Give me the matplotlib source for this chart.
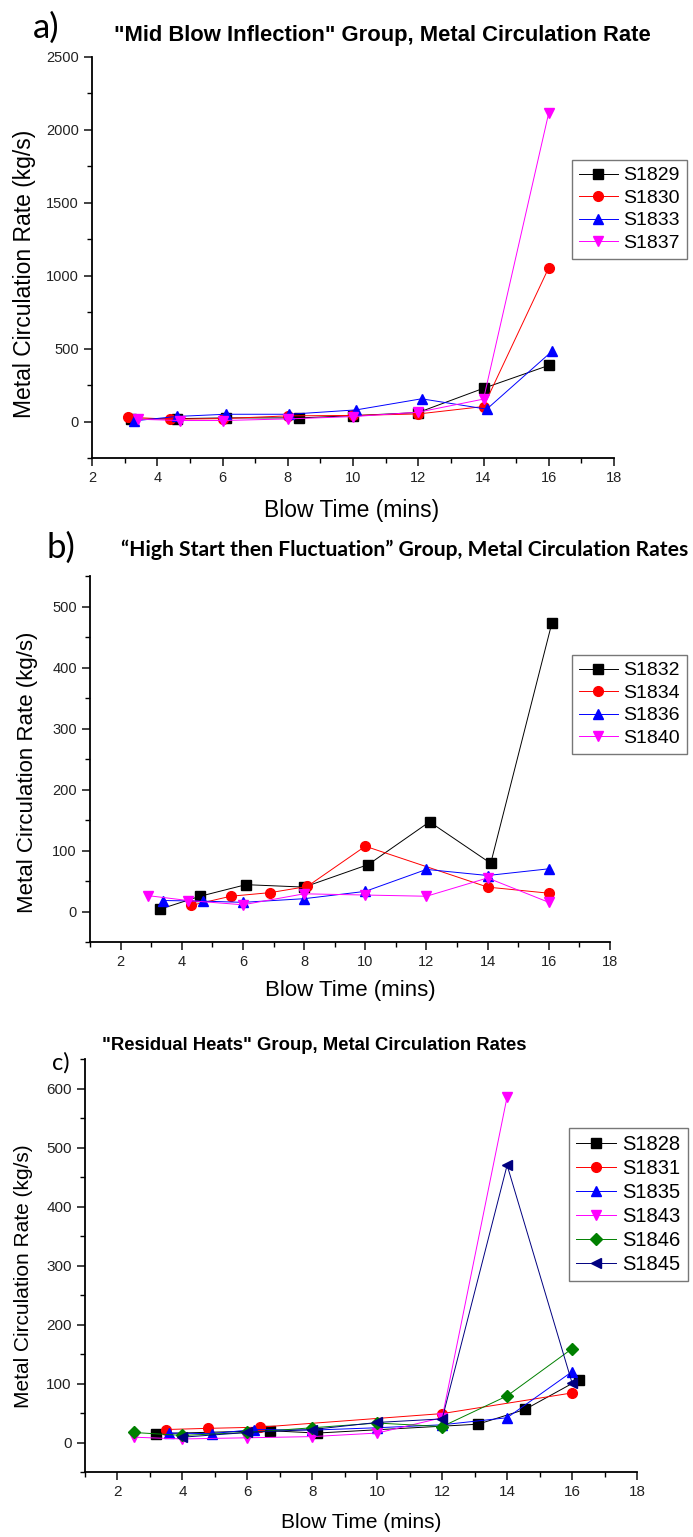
import matplotlib
matplotlib.use("Agg")
import matplotlib.pyplot as plt
from matplotlib.ticker import MultipleLocator

# ---- panel a data ----
a_names = ["S1829", "S1830", "S1833", "S1837"]
a_s1829_x = [3.2, 4.6, 6.1, 8.35, 10, 12, 14, 16]
a_s1829_y = [15, 20, 25, 25, 40, 62, 228, 385]
a_s1830_x = [3.1, 4.4, 6.0, 8.0, 10, 12, 14, 16]
a_s1830_y = [30, 16, 20, 39, 42, 52, 103, 1055]
a_s1833_x = [3.3, 4.6, 6.1, 8.05, 10.1, 12.1, 14.1, 16.1]
a_s1833_y = [5, 35, 50, 50, 80, 156, 85, 482]
a_s1837_x = [3.4, 4.7, 6.0, 8.0, 10, 12, 14, 16]
a_s1837_y = [16, 7, 7, 18, 34, 64, 154, 2117]

# ---- panel b data ----
b_names = ["S1832", "S1834", "S1836", "S1840"]
b_s1832_x = [3.3, 4.6, 6.1, 8.0, 10.1, 12.1, 14.1, 16.1]
b_s1832_y = [4, 25, 44, 40, 77, 147, 79, 473]
b_s1834_x = [4.3, 5.6, 6.9, 8.1, 10, 14, 16]
b_s1834_y = [10, 25, 31, 41, 107, 40, 30]
b_s1836_x = [3.4, 4.7, 6, 8, 10, 12, 14, 16]
b_s1836_y = [18, 17, 15, 21, 33, 69, 59, 70]
b_s1840_x = [2.9, 4.2, 6, 8, 10, 12, 14, 16]
b_s1840_y = [26, 18, 11, 29, 27, 25, 55, 15]

# ---- panel c data ----
c_names = ["S1828", "S1831", "S1835", "S1843", "S1846", "S1845"]
c_s1828_x = [3.2, 6.7, 8.15, 13.1, 14.55, 16.2]
c_s1828_y = [15, 20, 16, 31, 56, 106]
c_s1831_x = [3.5, 4.8, 6.4, 12, 16]
c_s1831_y = [22, 24, 26, 49, 84]
c_s1835_x = [3.6, 4.9, 6.2, 8, 10, 12, 14, 16]
c_s1835_y = [16, 15, 22, 21, 25, 30, 42, 120]
c_s1843_x = [2.5, 4, 6, 8, 10, 12, 14]
c_s1843_y = [9, 6, 8, 10, 16, 42, 586]
c_s1846_x = [2.5, 4, 6, 8, 10, 12, 14, 16]
c_s1846_y = [17, 12, 17, 25, 33, 27, 79, 159]
c_s1845_x = [4, 6, 8, 10, 12, 14, 16]
c_s1845_y = [9, 17, 22, 34, 40, 470, 101]

colors = ["#000000", "#ff0000", "#0000ff", "#ff00ff", "#008000", "#000080"]
markers = ["s", "o", "^", "v", "D", "<"]

W, H = 693, 1537
plt.rcParams["font.family"] = ["Liberation Sans", "DejaVu Sans"]

fig = plt.figure(figsize=(W / 100, H / 100), dpi=100)
fig.patch.set_facecolor("white")


def px_axes(l, t, r, b):
    return fig.add_axes([l / W, 1 - b / H, (r - l) / W, (b - t) / H])


def style_axes(ax, xlim, ylim, ymaj, ymin, tick_fs, lab_fs, ylab_xy, xlab_xy):
    ax.set_xlim(*xlim)
    ax.set_ylim(*ylim)
    ax.xaxis.set_major_locator(MultipleLocator(2))
    ax.xaxis.set_minor_locator(MultipleLocator(1))
    ax.yaxis.set_major_locator(MultipleLocator(ymaj))
    ax.yaxis.set_minor_locator(MultipleLocator(ymin))
    for s in ["top", "right"]:
        ax.spines[s].set_visible(False)
    for s in ["left", "bottom"]:
        ax.spines[s].set_linewidth(1.3)
    ax.tick_params(which="major", direction="out", length=6, width=1.2,
                   labelsize=tick_fs, colors="#222222")
    ax.tick_params(which="minor", direction="out", length=3.5, width=1.0)
    ax.set_ylabel("Metal Circulation Rate (kg/s)", fontsize=lab_fs)
    ax.set_xlabel("Blow Time (mins)", fontsize=lab_fs)
    ax.yaxis.set_label_coords(*ylab_xy)
    ax.xaxis.set_label_coords(*xlab_xy)


def draw(ax, xs, ys, names):
    for i, (x, y, n) in enumerate(zip(xs, ys, names)):
        ms = 6.0 if markers[i] == "D" else 7.0
        ax.plot(x, y, color=colors[i], lw=0.7, marker=markers[i], ms=ms,
                mec=colors[i], label=n)


def legend(ax, x0, y0, fs):
    leg = ax.legend(loc="upper left", bbox_to_anchor=(x0 / W, 1 - y0 / H),
                    bbox_transform=fig.transFigure, fontsize=fs,
                    frameon=True, fancybox=False, shadow=False,
                    borderpad=0.35, labelspacing=0.25, handlelength=2.0,
                    handletextpad=0.3, borderaxespad=0)
    leg.get_frame().set_edgecolor("#555555")
    leg.get_frame().set_linewidth(1.0)


# ---- panel a ----
ax1 = px_axes(92, 57, 614, 458)
draw(ax1, [a_s1829_x, a_s1830_x, a_s1833_x, a_s1837_x],
     [a_s1829_y, a_s1830_y, a_s1833_y, a_s1837_y], a_names)
style_axes(ax1, (2, 18), (-250, 2500), 500, 250, 10.5, 16.5,
           (-0.107, 0.46), (0.498, -0.102))
legend(ax1, 572, 160, 14)
fig.text(33 / W, 1 - 28 / H, "a)", fontsize=25, family="Lato", va="center")
fig.text(382 / W, 1 - 36 / H,
         '"Mid Blow Inflection" Group, Metal Circulation Rate',
         fontsize=15.8, weight="bold", ha="center", va="center")

# ---- panel b ----
ax2 = px_axes(90, 576, 610, 942)
draw(ax2, [b_s1832_x, b_s1834_x, b_s1836_x, b_s1840_x],
     [b_s1832_y, b_s1834_y, b_s1836_y, b_s1840_y], b_names)
style_axes(ax2, (1, 18), (-50, 550), 100, 50, 10.5, 16,
           (-0.1, 0.464), (0.5, -0.104))
legend(ax2, 572, 655, 14)
fig.text(46 / W, 1 - 548 / H, "b)", fontsize=25, family="Lato", va="center")
fig.text(405 / W, 1 - 550 / H,
         "\u201cHigh Start then Fluctuation\u201d Group, Metal Circulation Rates",
         fontsize=15.2, weight="bold", family="Lato", ha="center", va="center")

# ---- panel c ----
ax3 = px_axes(85, 1059, 637, 1472)
draw(ax3, [c_s1828_x, c_s1831_x, c_s1835_x, c_s1843_x, c_s1846_x, c_s1845_x],
     [c_s1828_y, c_s1831_y, c_s1835_y, c_s1843_y, c_s1846_y, c_s1845_y],
     c_names)
style_axes(ax3, (1, 18), (-50, 650), 100, 50, 11, 15,
           (-0.094, 0.475), (0.5, -0.099))
legend(ax3, 569, 1128, 14.5)
fig.text(52 / W, 1 - 1063 / H, "c)", fontsize=17, family="Lato", va="center")
fig.text(314 / W, 1 - 1045 / H,
         '"Residual Heats" Group, Metal Circulation Rates',
         fontsize=13.3, weight="bold", ha="center", va="center")

fig.savefig("out.png", dpi=100, facecolor="white")
